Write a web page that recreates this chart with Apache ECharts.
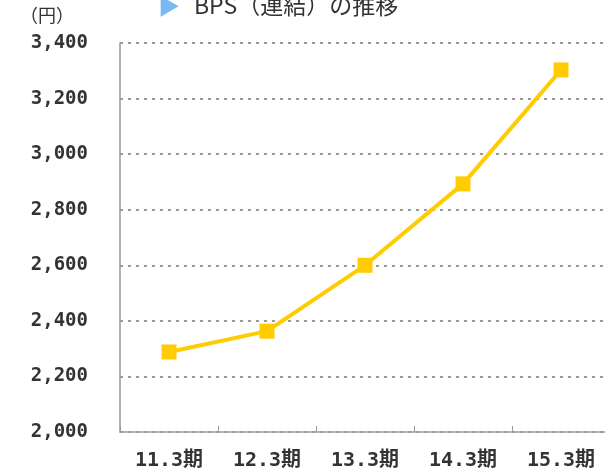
<!DOCTYPE html>
<html>
<head>
<meta charset="utf-8">
<script src="https://cdn.jsdelivr.net/npm/echarts@6/dist/echarts.min.js"></script>
<style>
  html, body { margin: 0; padding: 0; background: #fff; }
  #chart { width: 605px; height: 475px; }
</style>
</head>
<body>
<div id="chart"></div>
<script>
// 決算期とBPS（円）
var periods = ["11.3期", "12.3期", "13.3期", "14.3期", "15.3期"];
var bps = [2288, 2363, 2600, 2893, 3303];
var yMin = 2000, yMax = 3400, yStep = 200;

var monoFont = '"DejaVu Sans Mono", "Noto Sans CJK JP", monospace';

var myChart = echarts.init(document.getElementById("chart"));
var option = {
  backgroundColor: "#fff",
  animation: false,
  title: {
    text: "{tri|▶}{txt|BPS（連結）の推移}",
    left: 153,
    top: -11,
    textStyle: {
      fontWeight: "normal",
      rich: {
        tri: { color: "#7ab8f5", fontSize: 22, fontFamily: "Noto Sans CJK JP", width: 36 },
        txt: { color: "#333", fontSize: 23, fontWeight: "normal", fontFamily: "Noto Sans CJK JP" }
      }
    }
  },
  graphic: [
    {
      type: "text",
      left: 20,
      top: 6,
      style: { text: "（円）", fill: "#333", font: "18px 'Noto Sans CJK JP'" }
    }
  ],
  grid: { left: 120, width: 490, top: 43, bottom: 43, outerBoundsMode: "none" },
  xAxis: {
    type: "category",
    data: periods,
    boundaryGap: true,
    axisLine: { lineStyle: { color: "#999", width: 1.5 } },
    axisTick: { show: true, inside: true, length: 6, lineStyle: { color: "#999" } },
    axisLabel: {
      color: "#333",
      fontSize: 20,
      fontWeight: "bold",
      fontFamily: monoFont,
      margin: 19
    }
  },
  yAxis: {
    type: "value",
    min: yMin,
    max: yMax,
    interval: yStep,
    axisLine: { show: true, lineStyle: { color: "#999", width: 1.5 } },
    axisTick: { show: false },
    splitLine: { lineStyle: { color: "#999", width: 2, type: [3, 5] } },
    axisLabel: {
      color: "#333",
      fontSize: 19,
      fontWeight: "bold",
      fontFamily: monoFont,
      margin: 32,
      formatter: function (v) { return v.toLocaleString("en-US"); }
    }
  },
  series: [
    {
      type: "line",
      data: bps,
      symbol: "rect",
      symbolSize: 15,
      lineStyle: { color: "#ffcc00", width: 4 },
      itemStyle: { color: "#ffcc00" }
    }
  ]
};
myChart.setOption(option);
</script>
</body>
</html>
